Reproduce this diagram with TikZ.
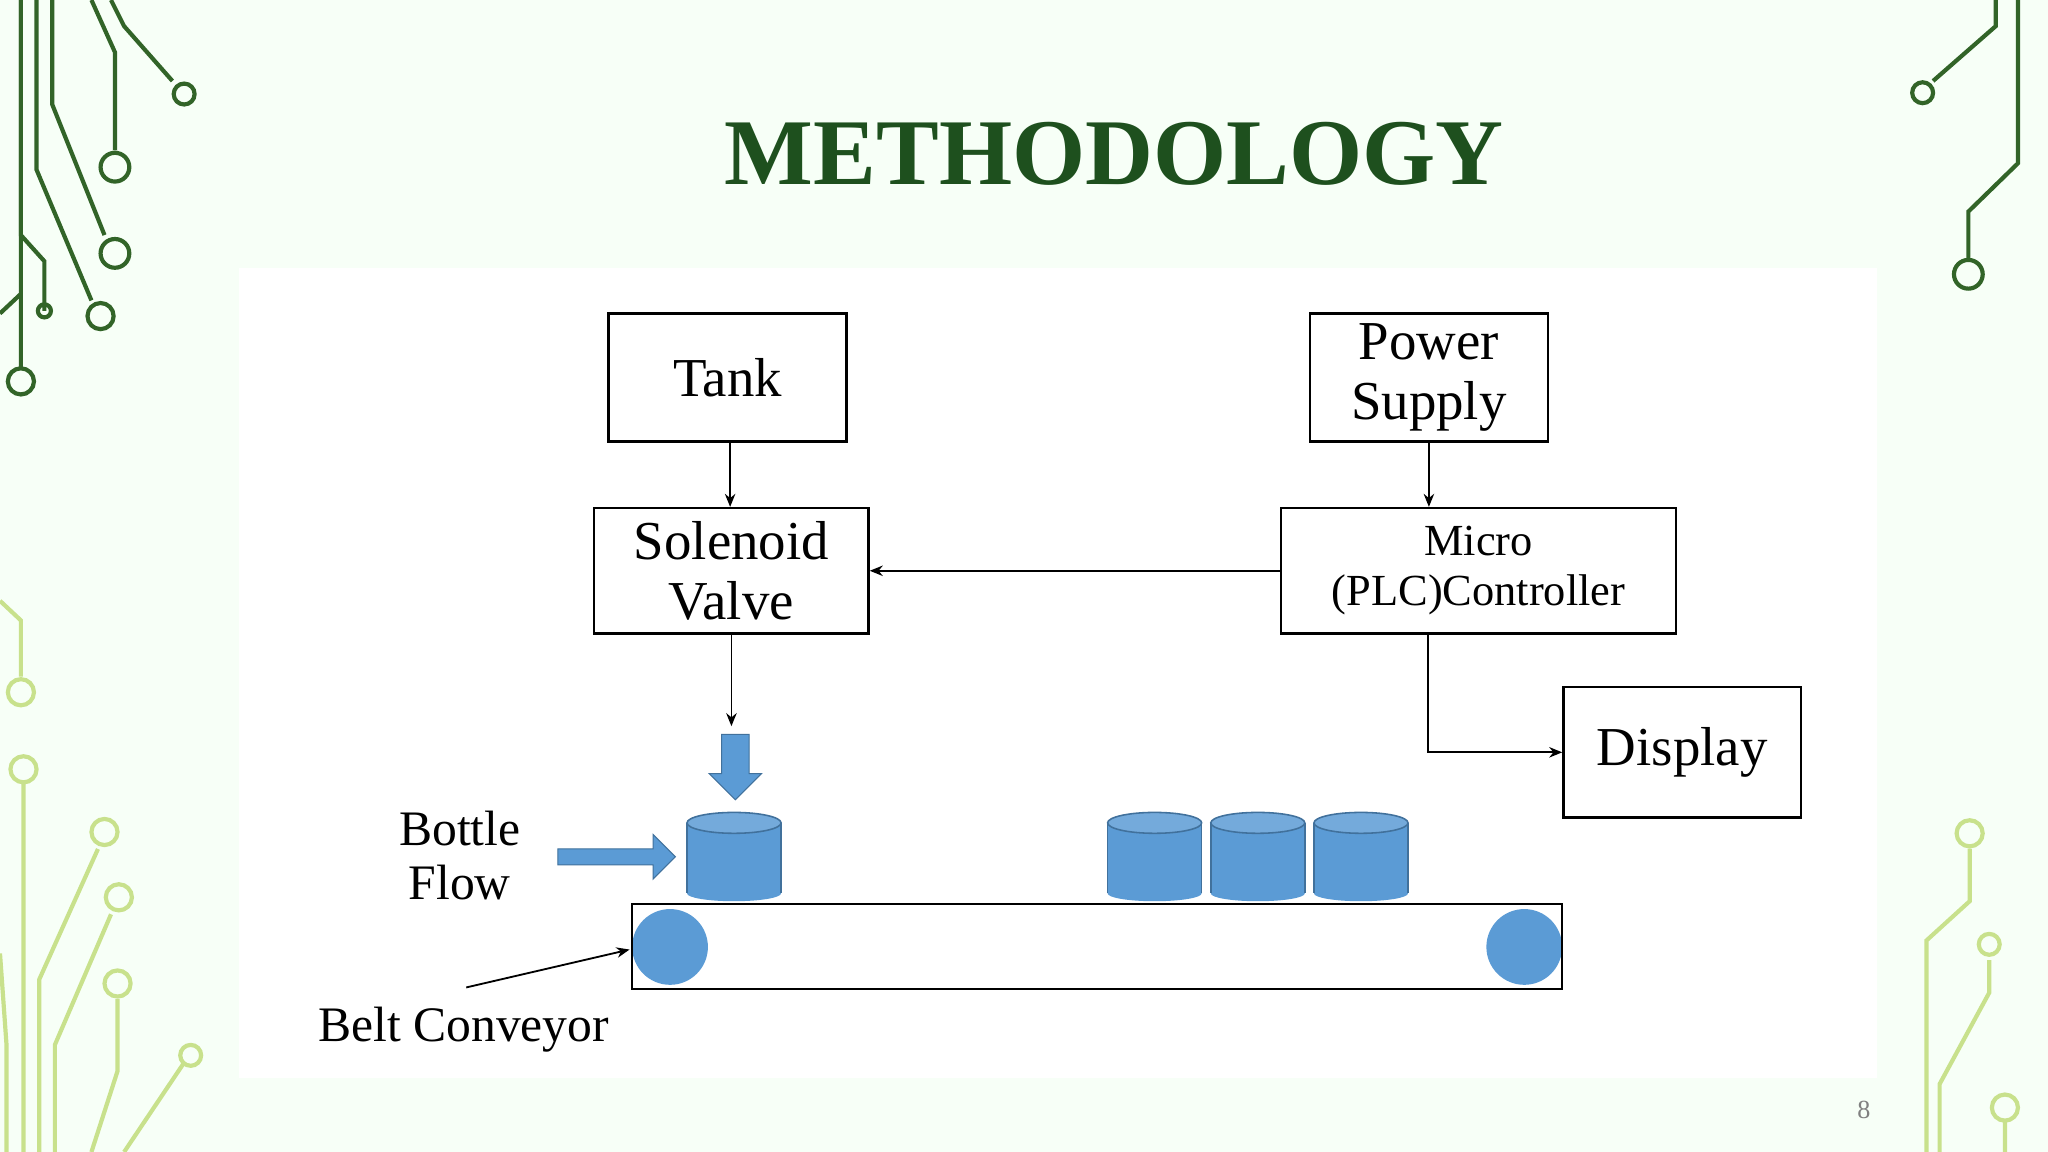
\documentclass[tikz,border=0pt]{standalone}
\usepackage{fontspec}
\setmainfont{Liberation Serif}
\usetikzlibrary{arrows.meta,shapes.arrows}
\definecolor{dg}{RGB}{30,80,30}
\definecolor{cg}{RGB}{50,100,40}
\definecolor{lg}{RGB}{200,225,140}
\definecolor{bl}{RGB}{91,155,213}
\definecolor{bld}{RGB}{65,113,156}
\begin{document}
\begin{tikzpicture}[x=0.5pt,y=-0.5pt,
 box/.style={draw,line width=0.9pt,fill=white,align=center,font=\fontsize{21}{22}\selectfont,inner sep=0},
 arr/.style={-{Stealth[length=5pt,width=4pt]},line width=0.7pt},
 dec/.style={line width=1.6pt,cg},
 decl/.style={line width=1.6pt,lg},
 cyl/.style={fill=bl,draw=bld,line width=0.6pt}]
\fill[green!3!white] (0,0) rectangle (1568,882);
\useasboundingbox (0,0) rectangle (1568,882);
\fill[white] (183,205) rectangle (1437,825);
\node[font=\bfseries\fontsize{36}{36}\selectfont,text=dg] (title) at (853,118) {METHODOLOGY};
% boxes
\node[box,minimum width=91pt,minimum height=49pt] (tank) at (557,289) {Tank};
\node[box,minimum width=91pt,minimum height=49pt] (ps) at (1094,289) {Power\\[1pt]Supply};
\node[box,minimum width=105pt,minimum height=48pt] (sv) at (560,437) {Solenoid\\[1pt]Valve};
\node[box,minimum width=151pt,minimum height=48pt,font=\fontsize{17}{19}\selectfont] (pl) at (1132,437) {Micro\\(PLC)Controller};
\node[box,minimum width=91pt,minimum height=50pt] (disp) at (1288,576) {Display};
\coordinate (sd) at (560,556);
\draw[arr] (tank.south -| 559,0) -- (sv.north -| 559,0);
\draw[arr] (pl.north -| 1094,0) ++(0,-49) -- (pl.north -| 1094,0);
\draw[arr] (pl.west) -- (sv.east);
\draw[arr] (sv.south) -- (sd);
\draw[arr] (pl.south -| 1093,0) |- (disp.west);
% blue arrows
\node[single arrow,fill=bl,draw=bld,line width=0.4pt,minimum width=20pt,single arrow head extend=2pt,minimum height=25pt,rotate=-90,inner sep=2pt] (da) at (563,582) {};
\node[single arrow,fill=bl,draw=bld,line width=0.4pt,minimum width=17pt,single arrow head extend=3pt,minimum height=45pt,inner sep=1.5pt] (ra) at (469,656) {};
\node[font=\fontsize{19}{21}\selectfont,align=center] (bf) at (352,655) {Bottle\\Flow};
% belt
\fill[bl] (513,725) circle (29);
\fill[bl] (1167,725) circle (29);
\node[draw,line width=0.9pt,minimum width=356pt,minimum height=32.5pt,inner sep=0] (belt) at (840,724.5) {};
% cylinders
\foreach \x in {562,884,963,1042}{
 \fill[bl] (\x-36,630) rectangle (\x+36,684);
 \fill[bl] (\x,684) ellipse (36 and 6);
 \draw[bld,line width=0.6pt] (\x-36,630) -- (\x-36,684) (\x+36,630) -- (\x+36,684);
 \filldraw[fill=bl!85!white,draw=bld,line width=0.6pt] (\x,630) ellipse (36 and 8);
}
\node[font=\fontsize{19}{21}\selectfont] (bc) at (355,788) {Belt Conveyor};
\coordinate (bcs) at (357,756);
\draw[arr] (bcs) -- (482,727);
\node[font=\fontsize{10}{10}\selectfont,text=gray] (pg) at (1427,850) {8};
% decorations top-left
\draw[dec] (16,0)--(16,180)--(34,200)--(34,238) (34,238) circle (5);
\draw[dec] (16,0)--(16,282) (16,292) circle (10);
\draw[dec] (28,0)--(28,130)--(70,230) (77,242) circle (10);
\draw[dec] (40,0)--(40,80)--(80,180) (88,194) circle (11);
\draw[dec] (70,0)--(88,40)--(88,115) (88,128) circle (11);
\draw[dec] (85,0)--(95,20)--(132,62) (141,72) circle (8);
\draw[dec] (0,240)--(16,225);
% top-right
\draw[dec] (1528,0)--(1528,20)--(1480,62) (1472,71) circle (8);
\draw[dec] (1545,0)--(1545,125)--(1507,162)--(1507,198) (1507,210) circle (11);
% bottom-left light
\draw[decl] (0,460)--(16,475)--(16,518) (16,530) circle (10);
\draw[decl] (18,600)--(18,882) (18,589) circle (10);
\draw[decl] (0,730)--(5,800)--(5,882);
\draw[decl] (30,882)--(30,750)--(75,650) (80,637) circle (10);
\draw[decl] (42,882)--(42,800)--(85,700) (91,687) circle (10);
\draw[decl] (70,882)--(90,820)--(90,765) (90,753) circle (10);
\draw[decl] (95,882)--(140,815) (146,808) circle (8);
% bottom-right light
\draw[decl] (1508,650)--(1508,690)--(1475,720)--(1475,882) (1508,638) circle (10);
\draw[decl] (1523,735)--(1523,760)--(1485,830)--(1485,882) (1523,723) circle (8);
\draw[decl] (1535,848) circle (10) (1535,858)--(1535,882);
\end{tikzpicture}
\end{document}
